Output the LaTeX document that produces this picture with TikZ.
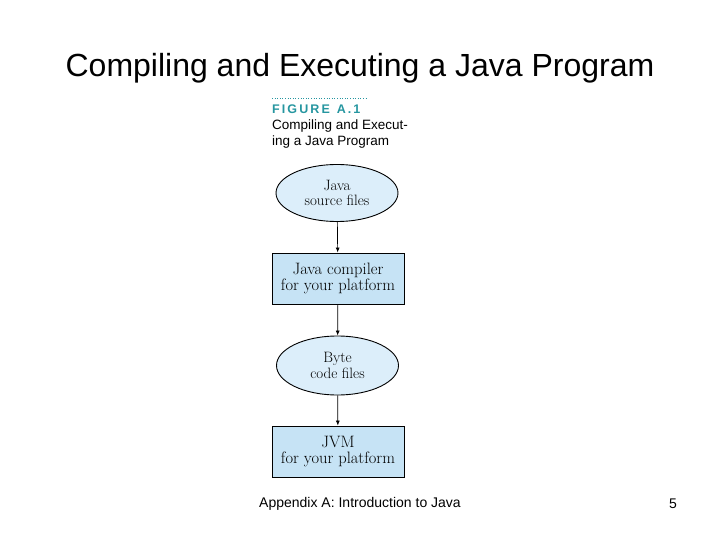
\documentclass[tikz,border=0pt]{standalone}
\usepackage{fontspec}
\setsansfont{Liberation Sans}
\usetikzlibrary{shapes.geometric,arrows.meta}
\definecolor{ovalblue}{RGB}{220,238,250}
\definecolor{boxblue}{RGB}{198,227,245}
\definecolor{figteal}{RGB}{38,150,160}
\tikzset{
  oval/.style={ellipse,draw,line width=0.9pt,fill=ovalblue,minimum width=122pt,minimum height=57pt,
    align=center,inner sep=0pt,font=\fontsize{15}{15.5}\selectfont},
  platbox/.style={rectangle,draw,line width=0.9pt,fill=boxblue,minimum width=132pt,minimum height=51pt,
    align=center,inner sep=0pt,font=\fontsize{16.5}{16.5}\selectfont},
  flow/.style={-{Latex[length=5pt,width=4pt]},line width=0.7pt}
}
\begin{document}
\begin{tikzpicture}[x=1pt,y=-1pt]
            \useasboundingbox (0,0) rectangle (720,540);
            % slide title and footer
            \node [font=\sffamily\fontsize{32}{34}\selectfont] (title) at (360,68) {Compiling and Executing a Java Program};
            \node [font=\sffamily\fontsize{14}{16}\selectfont] (footer) at (360,504) {Appendix A: Introduction to Java};
            \node [font=\sffamily\fontsize{14}{16}\selectfont] (page) at (673,504) {5};
            % figure caption
            \draw [figteal,dotted,line width=0.6pt] (272,98) -- (367,98);
            \node [anchor=west,inner sep=0pt,text=figteal,font=\sffamily\bfseries\fontsize{12.5}{14}\selectfont] (fig) at (272,109) {F\,I\,G\,U\,R\,E\ \ A\,.\,1};
            \node [anchor=north west,inner sep=0pt,align=left,font=\sffamily\fontsize{13.5}{16}\selectfont] (cap) at (272,120) {Compiling and Execut-\\ing a Java Program};
            % flow
            \node [oval] (src) at (337,193) {Java\\source files};
            \node [platbox] (comp) at (338,278.5) {Java compiler\\for your platform};
            \node [oval,minimum height=59pt] (byte) at (337.5,365.5) {Byte\\code files};
            \node [platbox] (jvm) at (338,451.5) {JVM\\for your platform};
            \draw [flow] (src) -- (comp);
            \draw [flow] (comp) -- (byte);
            \draw [flow] (byte) -- (jvm);
        \end{tikzpicture}
\end{document}
